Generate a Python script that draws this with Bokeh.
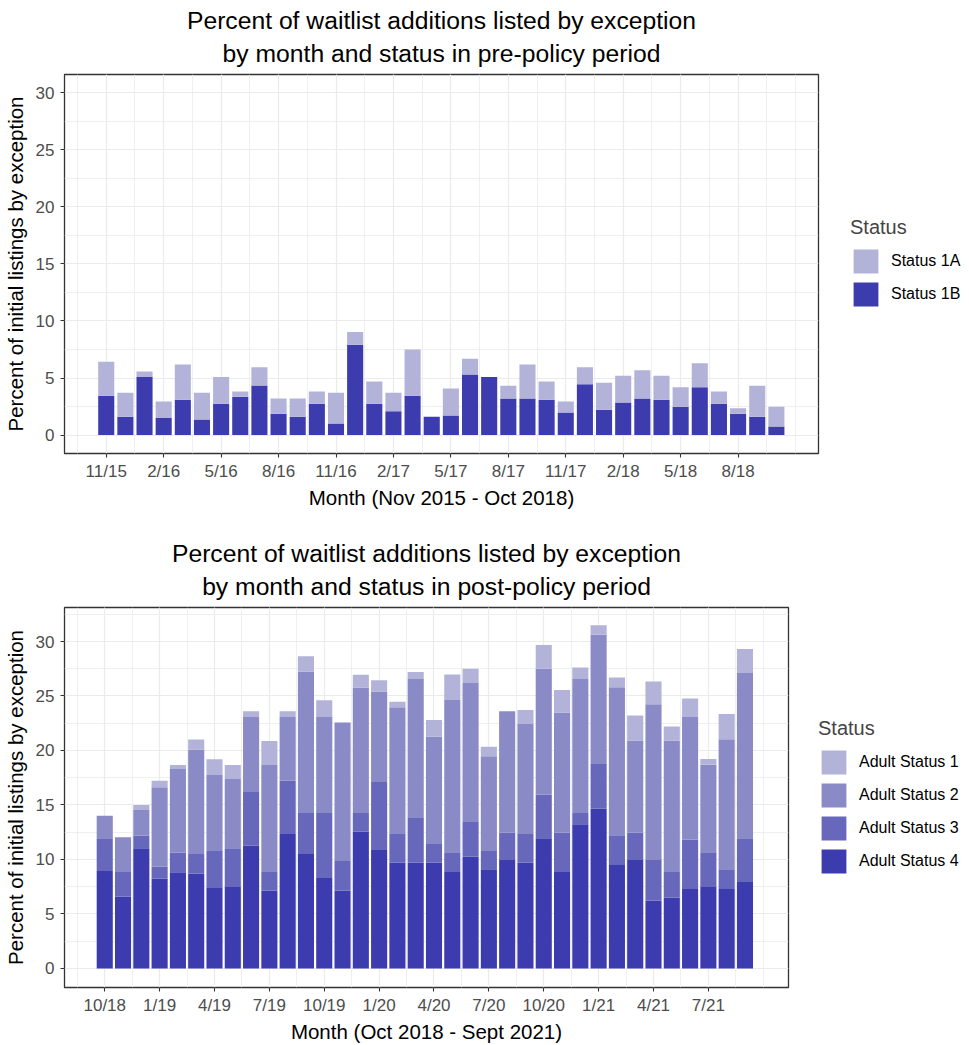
from bokeh.plotting import figure
from bokeh.models import ColumnDataSource, FixedTicker, Legend, LegendItem, Range1d, Title, Spacer
from bokeh.layouts import column
from bokeh.embed import file_html
from bokeh.resources import INLINE

FONT = "Liberation Sans"

# ---------------- data: pre-policy (Nov 2015 - Oct 2018) ----------------
pre_months = ["2015-11", "2015-12", "2016-01", "2016-02", "2016-03", "2016-04",
              "2016-05", "2016-06", "2016-07", "2016-08", "2016-09", "2016-10",
              "2016-11", "2016-12", "2017-01", "2017-02", "2017-03", "2017-04",
              "2017-05", "2017-06", "2017-07", "2017-08", "2017-09", "2017-10",
              "2017-11", "2017-12", "2018-01", "2018-02", "2018-03", "2018-04",
              "2018-05", "2018-06", "2018-07", "2018-08", "2018-09", "2018-10"]
pre_status_1b = [3.44, 1.6, 5.1, 1.49, 3.09, 1.37, 2.74, 3.36, 4.35, 1.87, 1.6, 2.74,
                 1.02, 7.91, 2.74, 2.1, 3.44, 1.6, 1.72, 5.31, 5.1, 3.21, 3.21, 3.09,
                 1.98, 4.46, 2.22, 2.86, 3.21, 3.09, 2.48, 4.2, 2.74, 1.87, 1.6, 0.76]
pre_status_1a = [2.98, 2.1, 0.47, 1.46, 3.1, 2.33, 2.34, 0.46, 1.6, 1.34, 1.61, 1.08,
                 2.68, 1.11, 1.96, 1.6, 4.06, 0.0, 2.37, 1.37, 0.0, 1.11, 2.98, 1.61,
                 0.97, 1.49, 2.36, 2.33, 2.48, 2.1, 1.72, 2.1, 1.08, 0.49, 2.72, 1.72]
pre_tick_labels = ["11/15", "2/16", "5/16", "8/16", "11/16", "2/17",
                   "5/17", "8/17", "11/17", "2/18", "5/18", "8/18"]

# ---------------- data: post-policy (Oct 2018 - Sept 2021) ----------------
post_months = ["2018-10", "2018-11", "2018-12", "2019-01", "2019-02", "2019-03",
               "2019-04", "2019-05", "2019-06", "2019-07", "2019-08", "2019-09",
               "2019-10", "2019-11", "2019-12", "2020-01", "2020-02", "2020-03",
               "2020-04", "2020-05", "2020-06", "2020-07", "2020-08", "2020-09",
               "2020-10", "2020-11", "2020-12", "2021-01", "2021-02", "2021-03",
               "2021-04", "2021-05", "2021-06", "2021-07", "2021-08", "2021-09"]
post_status_4 = [8.94, 6.61, 11.02, 8.26, 8.82, 8.69, 7.38, 7.53, 11.26, 7.13, 12.34, 10.5,
                 8.29, 7.13, 12.55, 10.87, 9.73, 9.73, 9.73, 8.85, 10.25, 9.09, 10.01, 9.73,
                 11.94, 8.85, 13.22, 14.66, 9.49, 10.01, 6.24, 6.52, 7.28, 7.53, 7.28, 7.93]
post_status_3 = [3.0, 2.24, 1.16, 1.08, 1.8, 1.81, 3.39, 3.49, 4.93, 1.72, 4.89, 3.76,
                 5.97, 2.73, 1.71, 6.24, 2.61, 4.14, 1.69, 1.8, 3.25, 1.68, 2.45, 2.61,
                 4.01, 3.61, 1.04, 4.1, 2.72, 2.45, 3.77, 2.33, 4.53, 3.12, 1.81, 4.01]
post_status_2 = [2.08, 3.18, 2.36, 7.28, 7.68, 9.58, 6.98, 6.37, 6.89, 9.82, 5.85, 12.98,
                 8.82, 12.7, 11.51, 8.3, 11.63, 12.7, 9.85, 13.99, 12.7, 8.7, 11.14, 10.1,
                 11.54, 11.02, 12.31, 11.85, 13.59, 8.45, 14.23, 12.06, 11.27, 8.05, 11.94, 15.18]
post_status_1 = [0.0, 0.0, 0.46, 0.61, 0.37, 0.92, 1.44, 1.28, 0.52, 2.21, 0.52, 1.41,
                 1.53, 0.0, 1.17, 1.04, 0.49, 0.64, 1.53, 2.33, 1.29, 0.88, 0.0, 1.28,
                 2.2, 2.08, 1.04, 0.89, 0.89, 2.29, 2.08, 1.28, 1.68, 0.52, 2.32, 2.2]
post_tick_labels = ["10/18", "1/19", "4/19", "7/19", "10/19", "1/20",
                    "4/20", "7/20", "10/20", "1/21", "4/21", "7/21"]

COL_1 = "#b3b3d9"
COL_2 = "#8a8ac6"
COL_3 = "#6767bb"
COL_4 = "#3c3cae"


def make_chart(title_lines, xlabel, months, stack_names, stack_values, colors,
               legend_labels, tick_labels, x_rng, y_rng, frame_w, frame_h, right,
               bar_width, legend_loc):
    data = {"x": list(range(len(months)))}
    for n, v in zip(stack_names, stack_values):
        data[n] = v
    src = ColumnDataSource(data)

    p = figure(frame_width=frame_w, frame_height=frame_h,
               x_range=Range1d(*x_rng), y_range=Range1d(*y_rng),
               output_backend="svg", toolbar_location=None, title=None,
               min_border_left=57, min_border_right=right, min_border_top=5,
               min_border_bottom=5, background_fill_color="white",
               border_fill_color="white")
    # second line first: closest to the frame
    p.add_layout(Title(text=title_lines[1], align="center", text_font=FONT,
                       text_font_size="24.7px", text_font_style="normal",
                       text_color="black", standoff=15), "above")
    p.add_layout(Title(text=title_lines[0], align="center", text_font=FONT,
                       text_font_size="24.7px", text_font_style="normal",
                       text_color="black", standoff=-7), "above")

    rs = p.vbar_stack(stack_names, x="x", width=bar_width, color=colors,
                      line_color=None, source=src)

    xt = FixedTicker(ticks=[3 * i for i in range(len(tick_labels))],
                     minor_ticks=[-1.5 + 1.5 * k for k in range(26)])
    yt = FixedTicker(ticks=[0, 5, 10, 15, 20, 25, 30],
                     minor_ticks=[2.5, 7.5, 12.5, 17.5, 22.5, 27.5, 32.5])
    p.xaxis.ticker = xt
    p.yaxis.ticker = yt
    p.xgrid.ticker = xt
    p.ygrid.ticker = yt
    p.xaxis.major_label_overrides = {3 * i: lab for i, lab in enumerate(tick_labels)}

    p.grid.grid_line_color = "#ebebeb"
    p.grid.grid_line_width = 1.2
    p.grid.minor_grid_line_color = "#ebebeb"
    p.grid.minor_grid_line_width = 0.8

    p.axis.axis_line_color = None
    p.axis.minor_tick_line_color = None
    p.axis.major_tick_line_color = "#333333"
    p.axis.major_tick_line_width = 1.1
    p.axis.major_tick_out = 4
    p.axis.major_tick_in = 0
    p.axis.major_label_text_font = FONT
    p.axis.major_label_text_font_size = "17px"
    p.axis.major_label_text_color = "#4d4d4d"
    p.axis.axis_label_text_font = FONT
    p.axis.axis_label_text_font_size = "20.5px"
    p.axis.axis_label_text_font_style = "normal"
    p.axis.axis_label_text_color = "black"
    p.xaxis.major_label_standoff = 4
    p.xaxis.axis_label_standoff = 2
    p.yaxis.major_label_standoff = 6
    p.yaxis.axis_label_standoff = 6
    p.xaxis.axis_label = xlabel
    p.yaxis.axis_label = "Percent of initial listings by exception"

    p.outline_line_color = "#333333"
    p.outline_line_width = 1.3

    items = [LegendItem(label=lab, renderers=[r])
             for lab, r in zip(legend_labels, list(reversed(rs)))]
    legend = Legend(items=items, title="Status", location=legend_loc,
                    orientation="vertical", margin=0, padding=0, spacing=3,
                    glyph_width=31, glyph_height=30, label_standoff=10,
                    border_line_color=None, background_fill_alpha=0)
    legend.title_text_font = FONT
    legend.title_text_font_size = "20px"
    legend.title_text_font_style = "normal"
    legend.title_standoff = 7
    legend.label_text_font = FONT
    legend.label_text_font_size = "16px"
    legend.label_text_color = "black"
    p.add_layout(legend, "right")
    return p


p1 = make_chart(["Percent of waitlist additions listed by exception",
                 "by month and status in pre-policy period"],
                "Month (Nov 2015 - Oct 2018)", pre_months,
                ["s1b", "s1a"], [pre_status_1b, pre_status_1a], [COL_4, COL_1],
                ["Status 1A", "Status 1B"], pre_tick_labels,
                (-2.18, 37.2), (-1.61, 31.58), 754, 379, 142, 0.84, (32, 144))

p2 = make_chart(["Percent of waitlist additions listed by exception",
                 "by month and status in post-policy period"],
                "Month (Oct 2018 - Sept 2021)", post_months,
                ["s4", "s3", "s2", "s1"],
                [post_status_4, post_status_3, post_status_2, post_status_1],
                [COL_4, COL_3, COL_2, COL_1],
                ["Adult Status 1", "Adult Status 2", "Adult Status 3", "Adult Status 4"],
                post_tick_labels,
                (-2.2, 37.38), (-1.75, 33.12), 724, 380, 172, 0.88, (30, 111))

layout = column(Spacer(width=10, height=8), p1, Spacer(width=10, height=30), p2, spacing=0)
open("out.html", "w").write(file_html(layout, INLINE))
